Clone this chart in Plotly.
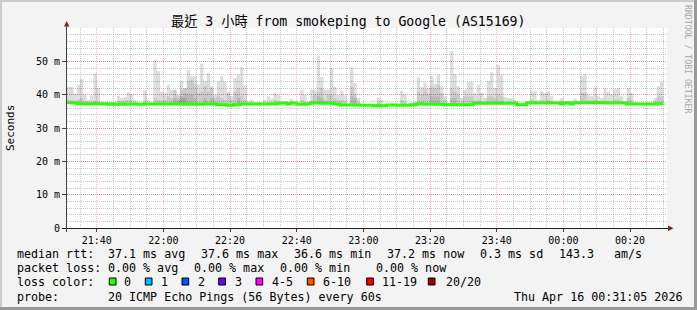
import pandas as pd
import plotly.graph_objects as go

# ---------------- data ----------------
bin_start = pd.date_range('2026-04-15 21:31:00', periods=179, freq='60s')
range_start = '2026-04-15 21:31:05'
range_end = '2026-04-16 00:31:05'

rtt_median = [
    37.6, 37.6, 37.5, 37.3, 37.3, 37.3, 37.3, 37.3, 37.3, 37.3,
    37.3, 37.3, 37.1, 37.2, 37.1, 37.1, 37.2, 37.1, 37.1, 37.2,
    37.2, 37.1, 37.1, 37.2, 37.2, 37.2, 37.2, 37.2, 37.2, 37.2,
    37.2, 37.2, 37.2, 37.2, 37.2, 37.1, 37.1, 37.1, 37.1, 37.1,
    37.1, 37.2, 37.2, 37.2, 37.2, 37.0, 37.0, 37.0, 36.8, 36.8,
    37.0, 37.0, 37.2, 37.2, 37.2, 37.2, 37.2, 37.2, 37.2, 37.2,
    37.2, 37.2, 37.2, 37.4, 37.5, 37.5, 37.2, 37.5, 37.5, 37.1,
    37.1, 37.1, 37.3, 37.5, 37.5, 37.5, 37.4, 37.4, 37.4, 37.4,
    37.2, 37.2, 36.9, 36.9, 36.9, 36.9, 36.9, 36.9, 36.8, 36.8,
    36.8, 36.8, 36.7, 36.6, 36.7, 36.7, 36.9, 36.9, 36.9, 36.8,
    36.8, 36.8, 36.8, 37.0, 37.0, 37.3, 37.3, 37.1, 37.1, 37.1,
    37.1, 37.1, 37.1, 37.0, 37.0, 37.0, 37.0, 37.0, 37.0, 37.0,
    37.0, 37.0, 37.4, 37.4, 37.4, 37.4, 37.4, 37.4, 37.4, 37.4,
    37.4, 37.4, 37.4, 37.4, 37.4, 37.0, 37.0, 37.0, 37.5, 37.5,
    37.5, 37.5, 37.5, 37.5, 37.5, 37.5, 37.5, 37.5, 37.2, 37.5,
    37.6, 37.2, 37.6, 37.6, 37.6, 37.6, 37.6, 37.6, 37.6, 37.6,
    37.6, 37.5, 37.5, 37.5, 37.5, 37.5, 37.5, 37.5, 37.2, 37.2,
    37.2, 37.2, 37.2, 37.2, 37.2, 37.2, 37.2, 37.3, 37.3,
]

# highest ping of each round (outer smoke band)
rtt_max = [
    42.4, 42.4, 40.2, 43.0, 44.7, 40.0, 38.5, 39.8, 46.3, 42.0,
    37.9, 37.8, 37.9, 37.8, 37.9, 39.6, 39.0, 39.3, 40.7, 40.2,
    38.5, 37.6, 37.6, 41.3, 38.2, 37.6, 50.5, 47.0, 41.0, 40.5,
    43.0, 41.5, 41.5, 40.0, 44.2, 42.0, 47.5, 45.5, 45.5, 43.0,
    49.3, 44.0, 46.5, 42.5, 40.0, 44.0, 45.5, 44.0, 41.0, 39.5,
    45.0, 46.0, 48.3, 42.8, 38.0, 38.5, 37.8, 37.8, 37.6, 38.5,
    39.5, 38.8, 40.5, 39.8, 37.7, 38.0, 37.6, 38.8, 37.6, 37.6,
    41.5, 40.0, 37.6, 41.5, 41.3, 51.7, 45.3, 41.5, 41.5, 48.0,
    42.3, 40.0, 41.2, 39.8, 37.4, 48.3, 43.5, 39.0, 37.3, 37.2,
    37.2, 37.2, 37.1, 39.2, 38.5, 37.1, 37.2, 37.4, 37.2, 37.2,
    41.2, 40.0, 37.3, 37.4, 37.8, 45.2, 42.2, 43.7, 42.0, 45.7,
    43.2, 46.0, 42.5, 39.5, 37.6, 53.0, 46.2, 42.5, 39.0, 41.5,
    43.7, 43.8, 40.5, 43.0, 40.5, 39.0, 44.0, 46.7, 42.0, 49.0,
    46.0, 39.3, 39.0, 39.0, 38.5, 37.6, 37.6, 37.6, 38.2, 41.2,
    41.0, 38.5, 41.0, 40.5, 41.0, 39.5, 37.9, 37.9, 39.0, 37.9,
    37.9, 37.9, 38.8, 38.2, 45.7, 46.2, 40.0, 39.5, 42.2, 39.5,
    39.0, 42.0, 41.0, 40.2, 41.7, 42.0, 39.5, 37.9, 42.0, 40.5,
    37.8, 37.6, 37.6, 37.5, 37.8, 37.5, 39.0, 42.5, 43.8,
]

# second-highest ping (second smoke band)
rtt_p19 = [
    38.6, 38.3, 37.8, 38.5, 39.0, 38.0, 37.7, 37.8, 38.2, 38.0,
    37.6, 37.6, 37.5, 37.5, 37.5, 38.2, 38.0, 38.2, 38.4, 38.2,
    37.8, 37.4, 37.4, 38.3, 37.6, 37.4, 39.0, 38.5, 38.3, 38.5,
    39.5, 39.0, 41.5, 39.5, 41.5, 42.0, 44.0, 44.5, 43.0, 40.5,
    41.0, 42.5, 41.0, 42.0, 39.0, 39.5, 39.0, 38.5, 40.5, 38.5,
    41.0, 42.0, 39.5, 38.5, 37.6, 37.6, 37.5, 37.5, 37.4, 37.6,
    37.7, 37.6, 38.3, 37.8, 37.6, 37.7, 37.4, 37.8, 37.6, 37.4,
    38.5, 37.8, 37.5, 38.3, 40.0, 41.0, 42.0, 38.5, 40.0, 40.0,
    39.0, 38.3, 38.5, 38.0, 37.2, 42.5, 40.0, 37.8, 37.1, 37.0,
    37.0, 37.0, 36.9, 38.0, 37.3, 36.9, 37.1, 37.2, 37.1, 37.0,
    38.5, 37.8, 37.1, 37.2, 37.4, 41.0, 40.0, 41.5, 40.0, 42.5,
    42.0, 43.0, 40.5, 38.5, 37.3, 42.0, 41.0, 40.0, 38.0, 39.5,
    39.5, 39.5, 38.2, 38.5, 38.0, 37.8, 39.5, 39.5, 39.0, 40.0,
    39.5, 37.8, 37.7, 37.8, 37.7, 37.3, 37.3, 37.3, 37.8, 38.5,
    38.2, 37.8, 38.5, 38.2, 38.5, 38.0, 37.7, 37.7, 38.0, 37.6,
    37.8, 37.6, 38.0, 37.9, 40.5, 40.5, 38.5, 38.3, 38.5, 38.0,
    38.0, 38.5, 38.2, 38.0, 38.5, 38.5, 38.0, 37.7, 39.0, 38.2,
    37.5, 37.4, 37.5, 37.4, 37.5, 37.4, 38.0, 39.5, 39.5,
]

# third-highest ping (third smoke band)
rtt_p18 = [37.0] * 30 + [
    37.0, 37.0, 39.0, 37.0, 39.5, 40.5, 40.0, 40.0, 39.0, 37.0,
    37.0, 39.0, 37.0, 39.0, 37.0, 37.0, 37.0, 37.0, 37.0, 37.0,
    37.0, 39.0, 37.0, 37.0, 37.0, 37.0, 37.0, 37.0, 37.0, 37.0,
    37.0, 37.0, 37.0, 37.0, 37.0, 37.0, 37.0, 37.0, 37.0, 37.0,
    37.0, 37.0, 37.0, 37.0, 37.0, 39.5, 39.0, 37.0, 37.0, 37.0,
    37.0, 37.0, 37.0, 37.0, 37.0, 39.5, 39.0, 37.0, 37.0, 37.0,
    37.0, 37.0, 37.0, 37.0, 37.0, 37.0, 37.0, 37.0, 37.0, 37.0,
    37.0, 37.0, 37.0, 37.0, 37.0, 37.0, 37.0, 37.0, 37.0, 39.5,
    39.5, 39.5, 37.0, 37.0, 37.0, 39.0, 39.0, 37.0, 37.0, 37.0,
] + [37.0] * 59

# fourth-highest ping (fourth smoke band)
rtt_p17 = [37.0] * 33 + [38.5, 39.0, 39.0] + [37.0] * 143

for arr in (rtt_median, rtt_max, rtt_p19, rtt_p18, rtt_p17):
    assert len(arr) == len(bin_start), len(arr)

y_tick_vals = [0, 10, 20, 30, 40, 50]
y_tick_text = ['0', '10 m', '20 m', '30 m', '40 m', '50 m']

title_text = '最近 3 小時 from smokeping to Google (AS15169)'
loss_labels = ['0', '1', '2', '3', '4-5', '6-10', '11-19', '20/20']
loss_colors = ['#26ff00', '#00b8ff', '#0059ff', '#7000ff', '#ff00ff',
               '#ff5500', '#ff0000', '#a10000']

# ---------------- geometry helpers ----------------
W, H = 697, 310
L, R, T, B = 67, 667, 28, 228
MONO = 'DejaVu Sans Mono'


def px(x):
    return (x - L) / (R - L)


def py(y):
    return (B - y) / (B - T)


step = pd.Timedelta(seconds=60)
fig = go.Figure()

# smoke bands as step polygons (no seams between minutes)
smoke = [
    (rtt_max, 'rgba(0,0,0,0.133)'),
    (rtt_p19, 'rgba(0,0,0,0.086)'),
    (rtt_p18, 'rgba(0,0,0,0.094)'),
    (rtt_p17, 'rgba(0,0,0,0.104)'),
]
for top, col in smoke:
    xs, ys = [], []
    for t0, tv, mv in zip(bin_start, top, rtt_median):
        v = max(tv, mv)
        xs += [t0, t0 + step]
        ys += [v, v]
    for t0, mv in zip(reversed(list(bin_start)), reversed(rtt_median)):
        xs += [t0 + step, t0]
        ys += [mv, mv]
    fig.add_trace(go.Scatter(
        x=xs, y=ys, mode='none', fill='toself', fillcolor=col,
        hoverinfo='skip',
    ))

fig.add_trace(go.Scatter(
    x=list(bin_start) + [bin_start[-1] + step],
    y=rtt_median + [rtt_median[-1]],
    mode='lines',
    line=dict(color='#26ff00', width=3, shape='hv'),
    hoverinfo='skip',
))

MAJOR = 'rgba(222,81,81,0.42)'
MINOR = 'rgba(143,143,143,0.5)'

fig.update_layout(
    width=W, height=H, autosize=False,
    margin=dict(l=L, r=W - R, t=T, b=H - B, pad=0),
    paper_bgcolor='#f3f3f3', plot_bgcolor='#ffffff',
    showlegend=False,
    xaxis=dict(
        type='date', range=[range_start, range_end],
        tick0='2026-04-15 21:40:00', dtick=1200000, tickformat='%H:%M',
        showgrid=True, gridcolor=MAJOR, griddash='1px,1px', gridwidth=1,
        ticks='outside', ticklen=3, tickcolor='#444',
        tickfont=dict(family=MONO, size=10, color='#000'),
        showline=False, zeroline=False, fixedrange=True,
        minor=dict(dtick=300000, tick0='2026-04-15 21:40:00', showgrid=True,
                   gridcolor=MINOR, griddash='1px,1px', gridwidth=1),
    ),
    yaxis=dict(
        range=[0, 60], tickmode='array', tickvals=y_tick_vals, ticktext=y_tick_text,
        showgrid=True, gridcolor=MAJOR, griddash='1px,1px', gridwidth=1,
        ticks='outside', ticklen=4, tickcolor='#444',
        tickfont=dict(family=MONO, size=10, color='#000'),
        showline=False, zeroline=False, fixedrange=True,
        minor=dict(dtick=2, tick0=0, showgrid=True,
                   gridcolor=MINOR, griddash='1px,1px', gridwidth=1),
    ),
)

shapes = []
# axes
shapes.append(dict(type='line', xref='paper', yref='paper', x0=px(62), x1=px(669),
                   y0=py(228.5), y1=py(228.5), line=dict(color='#202020', width=1), layer='above'))
shapes.append(dict(type='line', xref='paper', yref='paper', x0=px(66.5), x1=px(66.5),
                   y0=py(232), y1=py(23), line=dict(color='#404040', width=1), layer='above'))
# arrows
shapes.append(dict(type='path', xref='paper', yref='paper',
                   path=f'M {px(66.7)} {py(21)} L {px(64)} {py(26.5)} L {px(69.4)} {py(26.5)} Z',
                   fillcolor='#7f1f1f', line=dict(width=0), layer='above'))
shapes.append(dict(type='path', xref='paper', yref='paper',
                   path=f'M {px(673.5)} {py(228.3)} L {px(668)} {py(225.6)} L {px(668)} {py(231)} Z',
                   fillcolor='#7f1f1f', line=dict(width=0), layer='above'))
# frame
shapes.append(dict(type='line', xref='paper', yref='paper', x0=px(0), x1=px(697),
                   y0=py(1), y1=py(1), line=dict(color='#cbcbcb', width=2), layer='above'))
shapes.append(dict(type='line', xref='paper', yref='paper', x0=px(1), x1=px(1),
                   y0=py(0), y1=py(310), line=dict(color='#cbcbcb', width=2), layer='above'))
shapes.append(dict(type='line', xref='paper', yref='paper', x0=px(0), x1=px(697),
                   y0=py(308.5), y1=py(308.5), line=dict(color='#999999', width=3), layer='above'))
shapes.append(dict(type='line', xref='paper', yref='paper', x0=px(695.5), x1=px(695.5),
                   y0=py(0), y1=py(310), line=dict(color='#999999', width=3), layer='above'))

annotations = []


def ann(text, x, y, size=11.67, xanchor='left', color='#000', family=MONO, **kw):
    annotations.append(dict(text=text, x=px(x), y=py(y), xref='paper', yref='paper',
                            showarrow=False, xanchor=xanchor, yanchor='middle',
                            borderpad=0, font=dict(family=family, size=size, color=color), **kw))


ann(title_text, 348, 21, size=13.2, xanchor='center',
    family='DejaVu Sans Mono, Noto Sans CJK TC')
ann('Seconds', 10, 128, size=11, xanchor='center', textangle=-90)
ann('RRDTOOL / TOBI OETIKER', 688, 59, size=8.2, xanchor='center',
    color='#a8a8a8', textangle=90)

row1 = [('median rtt:', 16), ('37.1 ms avg', 107.3), ('37.6 ms max', 200),
        ('36.6 ms min', 293.3), ('37.2 ms now', 386), ('0.3 ms sd', 479.3),
        ('143.3', 558.3), ('am/s', 613.3)]
row2 = [('packet loss:', 16), ('0.00 % avg', 107.3), ('0.00 % max', 193.3),
        ('0.00 % min', 279.3), ('0.00 % now', 375)]
row4 = [('probe:', 16), ('20 ICMP Echo Pings (56 Bytes) every 60s', 107.3),
        ('Thu Apr 16 00:31:05 2026', 513.3)]
for t, x in row1:
    ann(t, x, 254.3)
for t, x in row2:
    ann(t, x, 268.3)
for t, x in row4:
    ann(t, x, 296.5)
ann('loss color:', 16, 282.3)

box_x = [109.3, 145.3, 182, 218.7, 256, 307.3, 366.7, 428.3]
lab_x = [123.3, 160, 197, 234, 270.7, 322.3, 381, 445]
for lab, col, bx, lx in zip(loss_labels, loss_colors, box_x, lab_x):
    shapes.append(dict(type='rect', xref='paper', yref='paper',
                       x0=px(bx), x1=px(bx + 6.7), y0=py(278), y1=py(285),
                       fillcolor=col, line=dict(color='#000', width=1), layer='above'))
    ann(lab, lx, 282.3)

fig.update_layout(shapes=shapes, annotations=annotations)

fig.write_html('out.html')
